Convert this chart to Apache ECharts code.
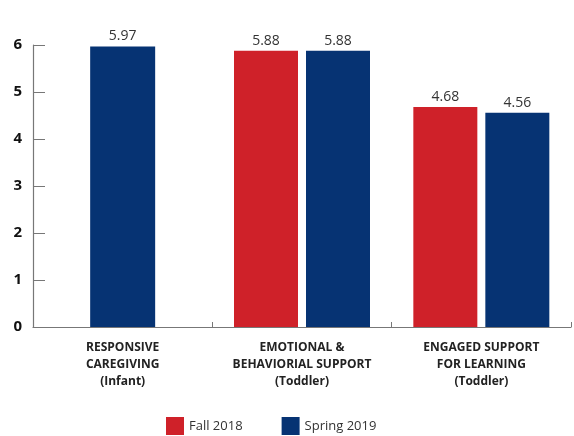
<!DOCTYPE html>
<html>
<head>
<meta charset="utf-8">
<script src="https://cdn.jsdelivr.net/npm/echarts@6/dist/echarts.min.js"></script>
<style>
  html, body { margin: 0; padding: 0; background: #fff; }
  #chart { width: 574px; height: 436px; }
</style>
</head>
<body>
<div id="chart"></div>
<script>
const categories = [
  'RESPONSIVE\nCAREGIVING\n(Infant)',
  'EMOTIONAL &\nBEHAVIORIAL SUPPORT\n(Toddler)',
  'ENGAGED SUPPORT\nFOR LEARNING\n(Toddler)'
];
const seriesNames = ['Fall 2018', 'Spring 2019'];
const fallValues = [null, 5.88, 4.68];
const springValues = [5.97, 5.88, 4.56];
const yTicks = [0, 1, 2, 3, 4, 5, 6];

const RED = '#cf2129';
const BLUE = '#063373';
const FONT = '"Open Sans", "Noto Sans", sans-serif';

// Categories with only a spring value get one centred bar on a second, hidden axis
const springPaired = springValues.map((v, i) => (fallValues[i] == null ? null : v));
const springAlone = springValues.map((v, i) => (fallValues[i] == null ? v : null));

const valueLabel = {
  show: true,
  position: 'top',
  distance: 3,
  fontFamily: FONT,
  fontSize: 14,
  color: '#333',
  formatter: p => p.value.toFixed(2)
};

const chart = echarts.init(document.getElementById('chart'));
chart.setOption({
  animation: false,
  textStyle: { fontFamily: FONT },
  grid: { left: 33, right: 3, top: 45, bottom: 109, containLabel: false },
  legend: {
    data: seriesNames,
    bottom: 1,
    left: 166,
    padding: 0,
    itemWidth: 18,
    itemHeight: 18,
    itemGap: 39,
    icon: 'rect',
    textStyle: { fontFamily: FONT, fontSize: 13, color: '#333' }
  },
  xAxis: [
    {
      type: 'category',
      data: categories,
      axisLine: { lineStyle: { color: '#777', width: 1.2 } },
      axisTick: { show: true, inside: true, length: 5, lineStyle: { color: '#777' } },
      axisLabel: {
        interval: 0,
        margin: 12,
        fontFamily: FONT,
        fontWeight: 'bold',
        fontSize: 12,
        lineHeight: 17,
        color: '#222'
      }
    },
    {
      type: 'category',
      data: categories,
      show: false
    }
  ],
  yAxis: {
    type: 'value',
    min: yTicks[0],
    max: yTicks[yTicks.length - 1],
    interval: 1,
    splitLine: { show: false },
    axisLine: { show: true, lineStyle: { color: '#777', width: 1.2 } },
    axisTick: { show: true, inside: true, length: 12, lineStyle: { color: '#777' } },
    axisLabel: {
      margin: 11,
      fontFamily: FONT,
      fontWeight: 'bold',
      fontSize: 15,
      color: '#111'
    }
  },
  series: [
    {
      name: seriesNames[0],
      type: 'bar',
      xAxisIndex: 0,
      data: fallValues,
      barWidth: 64,
      barGap: '12.5%',
      itemStyle: { color: RED },
      label: valueLabel
    },
    {
      name: seriesNames[1],
      type: 'bar',
      xAxisIndex: 0,
      data: springPaired,
      barWidth: 64,
      barGap: '12.5%',
      itemStyle: { color: BLUE },
      label: valueLabel
    },
    {
      name: seriesNames[1],
      type: 'bar',
      xAxisIndex: 1,
      data: springAlone,
      barWidth: 65,
      itemStyle: { color: BLUE },
      label: valueLabel
    }
  ]
});
</script>
</body>
</html>
